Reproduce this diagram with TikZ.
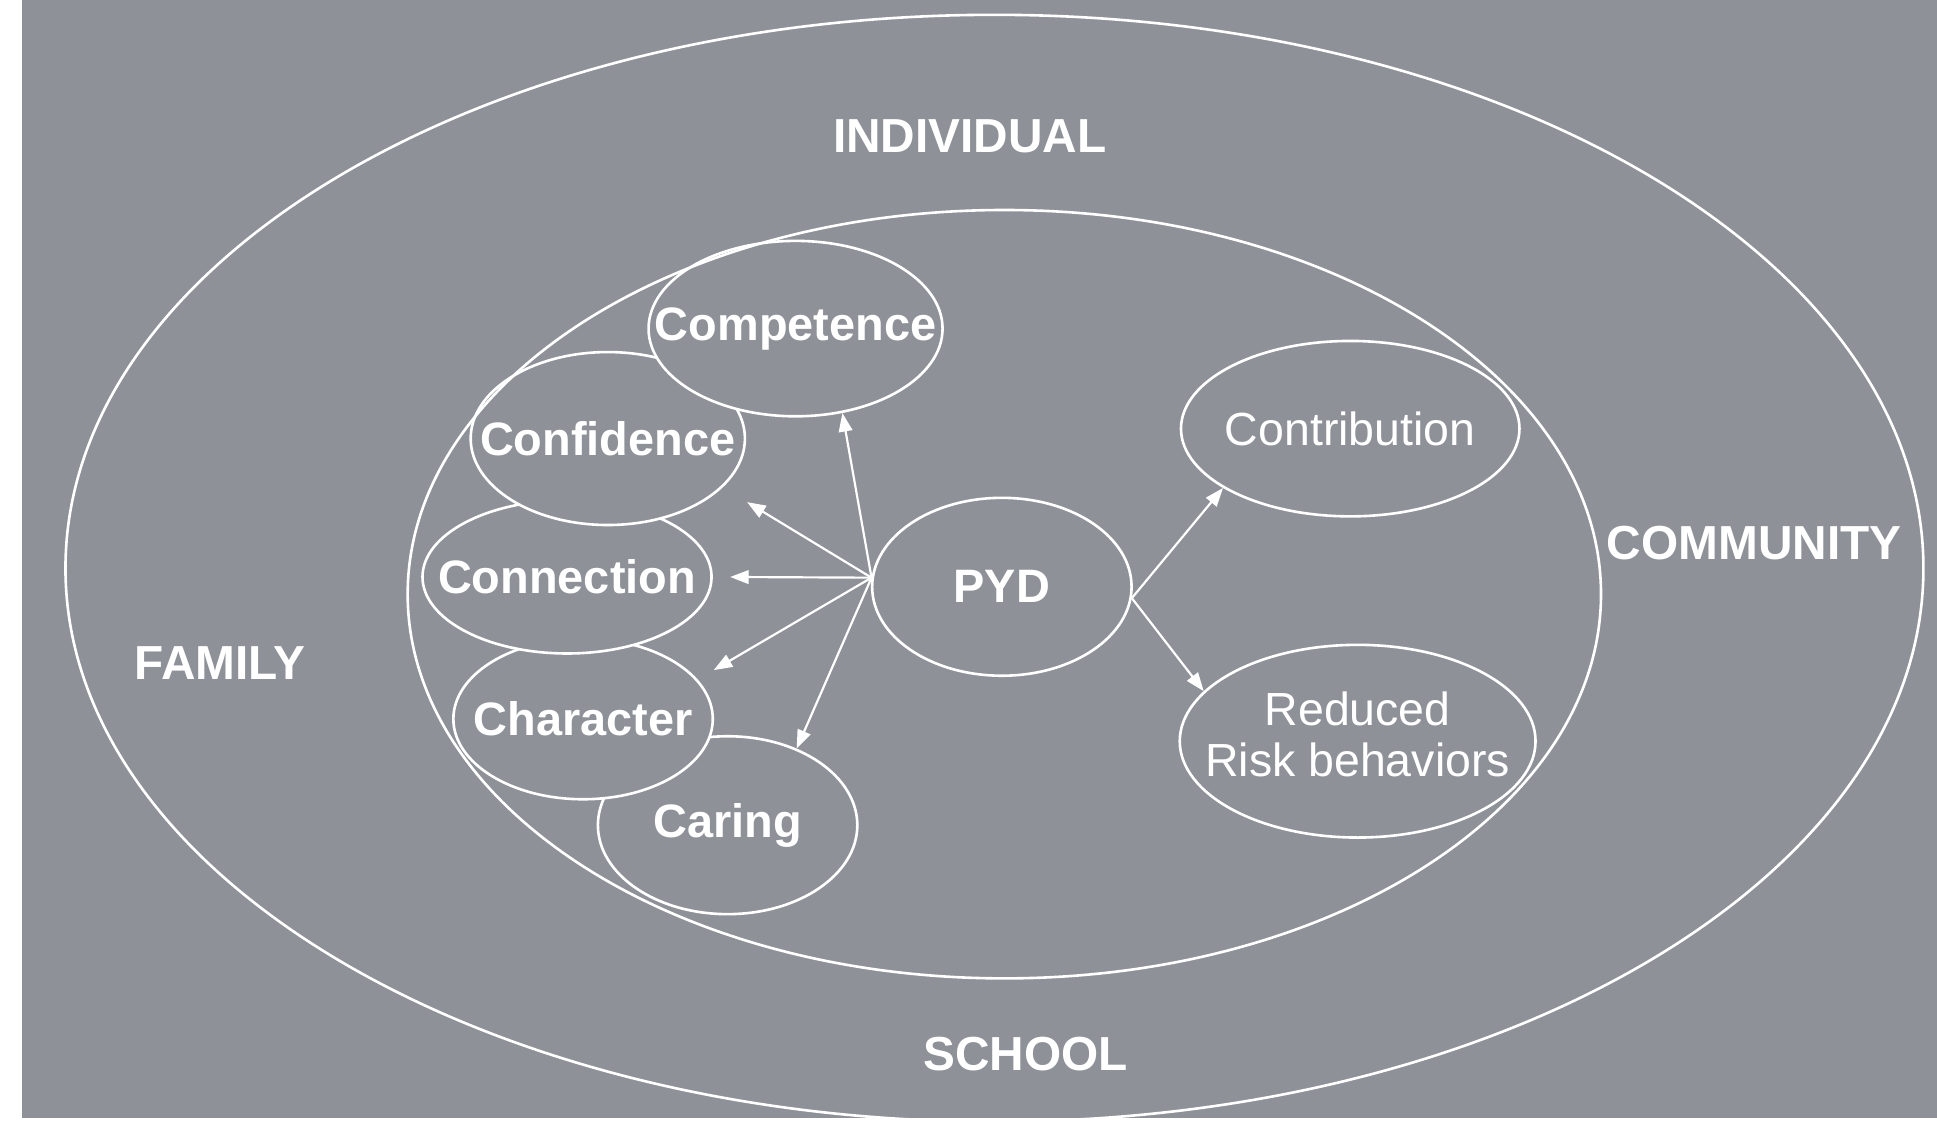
\documentclass[tikz,border=0pt]{standalone}
\usepackage{fontspec}
\setmainfont{Liberation Sans}
\usepackage{tikz}
\usetikzlibrary{arrows.meta,shapes.geometric}
\tikzset{>={Triangle[length=1.5mm,width=1.1mm]}}
\definecolor{scan}{RGB}{142,146,152}
\newcommand{\lbl}[1]{\makebox[0pt]{#1}}

\begin{document}
\begin{tikzpicture}[bubble/.style={ellipse,draw=white,fill=scan,line width=0.6pt,inner sep=0pt,text=white,font=\fontsize{10.8}{12}\selectfont\bfseries},
		outcome/.style={bubble,font=\fontsize{10.7}{11.7}\selectfont},
		sphere/.style={text=white,font=\fontsize{11}{13}\selectfont\bfseries},
		every path/.style={line width=0.5pt}]
			\useasboundingbox (0,0) rectangle (15.68,9.12);
			\fill[white] (0,0) rectangle (15.68,9.12);
			\fill[scan] (0.18,0.07) rectangle (15.68,9.12);
			\draw[white,line width=0.6pt] (8.05,4.52) ellipse [x radius=7.52,y radius=4.48];
			\node (individual) at (7.85,8.02) [sphere] {INDIVIDUAL};
			\node (community) at (14.20,4.72) [sphere] {COMMUNITY};
			\node (family) at (1.78,3.75) [sphere] {FAMILY};
			\node (school) at (8.30,0.59) [sphere] {SCHOOL};
			\node (caring) at (5.89,2.44) [bubble,minimum width=2.10cm,minimum height=1.44cm] {\lbl{Caring}};
			\node (character) at (4.72,3.30) [bubble,minimum width=2.10cm,minimum height=1.30cm] {\lbl{Character}};
			\node (connection) at (4.59,4.45) [bubble,minimum width=2.34cm,minimum height=1.24cm] {\lbl{Connection}};
			\node (confidence) at (4.92,5.57) [bubble,minimum width=2.22cm,minimum height=1.40cm] {\lbl{Confidence}};
			\node (competence) at (6.44,6.46) [bubble,minimum width=2.38cm,minimum height=1.42cm] {\lbl{Competence}};
			\node (pyd) at (8.11,4.37) [bubble,minimum width=2.10cm,minimum height=1.44cm] {\lbl{PYD}};
			\node (contribution) at (10.93,5.65) [outcome,minimum width=2.74cm,minimum height=1.42cm] {\lbl{Contribution}};
			\node (reduced) at (10.99,3.12) [outcome,minimum width=2.88cm,minimum height=1.56cm] {\lbl{\begin{tabular}{@{}c@{}}Reduced\\Risk behaviors\end{tabular}}};
			\draw[white,line width=0.6pt] (8.13,4.31) ellipse [x radius=4.83,y radius=3.11];
			\draw[->,white] (pyd.176) to (competence.-61);
			\draw[->,white,shorten >=2.3mm] (pyd.176) to (confidence.-23);
			\draw[->,white,shorten >=1.4mm] (pyd.176) to (connection.0);
			\draw[->,white,shorten >=1.5mm] (pyd.176) to (character.19);
			\draw[->,white] (pyd.176) to (caring.48);
			\draw[->,white] (pyd.-5) to (contribution.205);
			\draw[->,white] (pyd.-5) to (reduced.162);
		\end{tikzpicture}
\end{document}
